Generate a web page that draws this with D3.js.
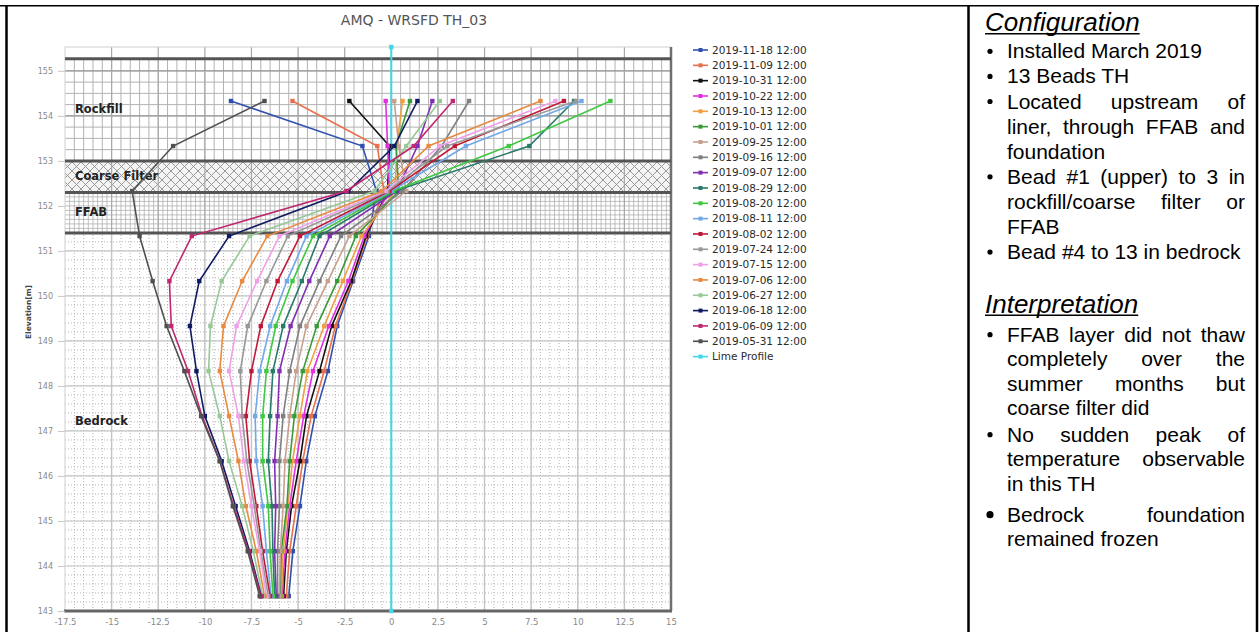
<!DOCTYPE html>
<html>
<head>
<meta charset="utf-8">
<script src="https://cdn.jsdelivr.net/npm/d3@7"></script>
<style>
  body { margin: 0; background: #fff; }
  svg { display: block; }
</style>
</head>
<body>
<svg id="chart" width="1259" height="632"></svg>
<script>
// ---- Thermistor bead elevations (m) ----
const elevations = [154.33, 153.33, 152.33, 151.33, 150.33, 149.33, 148.33, 147.33, 146.33, 145.33, 144.33, 143.33];

// ---- Temperature profiles (°C), one per reading date ----
const t1118 = [-8.6, -1.55, -0.8, -1.2, -2.05, -2.9, -3.4, -4.1, -4.56, -4.9, -5.28, -5.5];
const t1109 = [-5.3, -0.75, -0.4, -1.3, -2.1, -3.0, -3.6, -4.3, -4.75, -5.1, -5.45, -5.63];
const t1031 = [-2.25, -0.1, -0.2, -1.35, -2.15, -3.2, -3.85, -4.55, -4.9, -5.35, -5.63, -5.78];
const t1022 = [-0.3, -0.2, -0.1, -1.45, -2.3, -3.35, -4.2, -4.7, -5.1, -5.45, -5.7, -5.85];
const t1013 = [0.6, 0.3, 0.2, -1.6, -2.6, -3.6, -4.5, -4.9, -5.3, -5.55, -5.8, -5.9];
const t1001 = [1.0, 0.25, 0.4, -1.9, -2.9, -4.0, -4.75, -5.2, -5.45, -5.6, -5.9, -5.96];
const t0925 = [0.16, 0.4, 0.8, -2.25, -3.4, -4.55, -5.1, -5.45, -5.7, -5.8, -5.95, -6.0];
const t0916 = [4.17, 2.7, 0.6, -2.7, -3.85, -4.9, -5.45, -5.8, -6.0, -6.0, -6.1, -6.1];
const t0907 = [2.2, 1.4, 0.3, -3.3, -4.4, -5.4, -6.0, -6.1, -6.26, -6.2, -6.26, -6.17];
const t0829 = [9.8, 7.4, 0.2, -3.85, -4.8, -5.8, -6.35, -6.5, -6.6, -6.4, -6.35, -6.26];
const t0820 = [11.75, 6.3, 0.1, -4.2, -5.3, -6.2, -6.7, -6.9, -6.9, -6.6, -6.5, -6.35];
const t0811 = [10.2, 4.0, 0.0, -4.55, -5.6, -6.5, -7.06, -7.3, -7.24, -6.9, -6.7, -6.45];
const t0802 = [9.26, 3.4, -0.1, -4.9, -6.1, -7.0, -7.5, -7.8, -7.6, -7.24, -6.9, -6.5];
const t0724 = [9.9, 3.0, -0.2, -5.55, -6.7, -7.7, -8.1, -8.0, -7.75, -7.35, -7.0, -6.6];
const t0715 = [8.8, 2.6, -0.3, -6.0, -7.2, -8.3, -8.7, -8.2, -7.9, -7.5, -7.06, -6.7];
const t0706 = [8.0, 2.0, -0.5, -6.65, -8.0, -9.0, -9.2, -8.7, -8.2, -7.8, -7.24, -6.8];
const t0627 = [2.6, 0.8, -0.9, -7.6, -9.1, -9.7, -9.8, -9.2, -8.7, -8.0, -7.4, -6.9];
const t0618 = [1.4, 0.16, -2.3, -8.7, -10.3, -10.8, -10.45, -10.0, -9.1, -8.35, -7.6, -6.97];
const t0609 = [3.3, 1.2, -2.4, -10.7, -11.9, -11.8, -10.9, -10.15, -9.2, -8.45, -7.65, -7.0];
const t0531 = [-6.8, -11.7, -13.9, -13.5, -12.8, -12.05, -11.1, -10.2, -9.2, -8.5, -7.7, -7.06];

const seriesNames = [
  "2019-11-18 12:00", "2019-11-09 12:00", "2019-10-31 12:00", "2019-10-22 12:00",
  "2019-10-13 12:00", "2019-10-01 12:00", "2019-09-25 12:00", "2019-09-16 12:00",
  "2019-09-07 12:00", "2019-08-29 12:00", "2019-08-20 12:00", "2019-08-11 12:00",
  "2019-08-02 12:00", "2019-07-24 12:00", "2019-07-15 12:00", "2019-07-06 12:00",
  "2019-06-27 12:00", "2019-06-18 12:00", "2019-06-09 12:00", "2019-05-31 12:00"
];
const seriesValues = [t1118, t1109, t1031, t1022, t1013, t1001, t0925, t0916, t0907, t0829,
                      t0820, t0811, t0802, t0724, t0715, t0706, t0627, t0618, t0609, t0531];
const seriesColors = [
  "#3050b0", "#e8704a", "#111111", "#e030e0", "#f0a040", "#3a9a3a", "#c8a090", "#808080",
  "#8030b0", "#2a7a6a", "#40c840", "#70a8e8", "#c01838", "#989898", "#f0a0e8", "#e88a40",
  "#98c898", "#101a60", "#c02870", "#505050"
];

// Reference (0 °C) line
const limeName = "Lime Profile";
const limeTemps = [0, 0];
const limeElev = [143, 155.53];
const limeColor = "#40d8e8";

// ---- Material layers ----
const layerNames = ["Rockfill", "Coarse Filter", "FFAB", "Bedrock"];
const layerTops = [155.27, 153.0, 152.3, 151.4];
const layerBottoms = [153.0, 152.3, 151.4, 143.0];

// ---- Axis ticks ----
const xTicks = [-17.5, -15, -12.5, -10, -7.5, -5, -2.5, 0, 2.5, 5, 7.5, 10, 12.5, 15];
const yTicks = [143, 144, 145, 146, 147, 148, 149, 150, 151, 152, 153, 154, 155];

// ---- Side panel text ----
const configTitle = "Configuration";
const configItems = [
  ["Installed March 2019"],
  ["13 Beads TH"],
  ["Located upstream of", "liner, through FFAB and", "foundation"],
  ["Bead #1 (upper) to 3 in", "rockfill/coarse filter or", "FFAB"],
  ["Bead #4 to 13 in bedrock"]
];
const interpTitle = "Interpretation";
const interpItems = [
  ["FFAB layer did not thaw", "completely over the", "summer months but", "coarse filter did"],
  ["No sudden peak of", "temperature observable", "in this TH"],
  ["Bedrock foundation", "remained frozen"]
];

const svg = d3.select("#chart");
svg.append("rect").attr("width", 1259).attr("height", 632).attr("fill", "#fff");

const x = d3.scaleLinear().domain([-17.5, 15]).range([65, 671]);
const y = d3.scaleLinear().domain([143, 155.53]).range([611, 47]);
const [xL, xR] = x.range();
const [yB, yT] = y.range();

// patterns
const defs = svg.append("defs");
const hatch = defs.append("pattern").attr("id", "hatch").attr("patternUnits", "userSpaceOnUse")
  .attr("width", 9).attr("height", 9);
hatch.append("rect").attr("width", 9).attr("height", 9).attr("fill", "#f4f4f4");
hatch.append("path").attr("d", "M0,0L9,9M9,0L0,9M-1,8L1,10M8,-1L10,1")
  .attr("stroke", "#8f8f8f").attr("stroke-width", 0.9);
defs.append("clipPath").attr("id", "plotclip").append("rect")
  .attr("x", xL).attr("y", yT).attr("width", xR - xL).attr("height", yB - yT);

const grid = svg.append("g");
function hline(v, x0, x1, color, w, dash) {
  grid.append("line").attr("x1", x0).attr("x2", x1).attr("y1", y(v)).attr("y2", y(v))
    .attr("stroke", color).attr("stroke-width", w).attr("stroke-dasharray", dash || null);
}
function vline(v, y0, y1, color, w, dash) {
  grid.append("line").attr("x1", x(v)).attr("x2", x(v)).attr("y1", y(y0)).attr("y2", y(y1))
    .attr("stroke", color).attr("stroke-width", w).attr("stroke-dasharray", dash || null);
}

// Bedrock: dotted minor grid with light solid major lines
d3.range(-17, 15, 0.5).forEach(v => vline(v, 143, 151.4, "#b4b4b4", 1, "1,2"));
d3.range(143.2, 151.4, 0.2).forEach(v => hline(v, xL, xR, "#b4b4b4", 1, "1,2"));
d3.range(144, 151.4, 1).forEach(v => hline(v, xL, xR, "#c6c6c6", 1.2));
xTicks.slice(1, -1).forEach(v => vline(v, 143, 151.4, "#c4c4c4", 1.4));

// FFAB: dense solid grid
d3.range(-17.25, 15, 0.25).forEach(v => vline(v, 151.4, 152.3, "#b0b0b0", 0.8));
d3.range(151.5, 152.3, 0.1).forEach(v => hline(v, xL, xR, "#b0b0b0", 0.8));

// Coarse filter: cross hatch
grid.append("rect").attr("x", xL).attr("width", xR - xL)
  .attr("y", y(153.0)).attr("height", y(152.3) - y(153.0)).attr("fill", "url(#hatch)");

// Rockfill: solid grid
d3.range(-17, 15, 0.5).forEach(v => vline(v, 153.0, 155.27, "#b2b2b2", 1));
d3.range(153.25, 155.27, 0.25).forEach(v => hline(v, xL, xR, "#b2b2b2", 1));
[154, 155].forEach(v => hline(v, xL, xR, "#9a9a9a", 1.2));

// Major verticals through the upper layers
xTicks.slice(1, -1).forEach(v => vline(v, 151.4, 155.53, "#a8a8a8", 1.2));

// Plot frame
hline(155.53, xL, xR, "#cfcfcf", 1);
vline(-17.5, 143, 155.53, "#cfcfcf", 1);
vline(15, 143, 155.53, "#707070", 2.5);

// Layer boundaries
layerTops.forEach(v => hline(v, xL, xR, "#555", 3));
hline(143, xL - 1, xR + 1, "#666", 3);

// Layer labels
svg.append("g").selectAll("text").data(layerNames).join("text")
  .attr("x", 75)
  .attr("y", (d, i) => y((layerTops[i] + layerBottoms[i]) / 2))
  .attr("dominant-baseline", "middle")
  .attr("font-family", "DejaVu Sans, Verdana, sans-serif")
  .attr("font-weight", "bold").attr("font-size", 11.5).attr("fill", "#222")
  .text(d => d);

// Axes
const xAxis = svg.append("g").attr("transform", `translate(0,${yB + 6})`)
  .call(d3.axisBottom(x).tickValues(xTicks).tickFormat(d => String(d)).tickSize(0).tickPadding(2));
xAxis.select(".domain").remove();
xAxis.selectAll("text").attr("font-family", "DejaVu Sans, sans-serif").attr("font-size", 8.5).attr("fill", "#8a8a8a");

const yAxis = svg.append("g").attr("transform", `translate(${xL},0)`)
  .call(d3.axisLeft(y).tickValues(yTicks).tickFormat(d => String(d)).tickSize(7).tickPadding(5));
yAxis.select(".domain").remove();
yAxis.selectAll("line").attr("stroke", "#c8c8c8");
yAxis.selectAll("text").attr("font-family", "DejaVu Sans, sans-serif").attr("font-size", 8).attr("fill", "#8a8a8a");

svg.append("text").attr("transform", "translate(31,312) rotate(-90)")
  .attr("text-anchor", "middle").attr("font-family", "DejaVu Sans, sans-serif")
  .attr("font-size", 7.5).attr("font-weight", "bold").attr("fill", "#444").text("Elevation[m]");

// Title
svg.append("text").attr("x", 414).attr("y", 25).attr("text-anchor", "middle")
  .attr("font-family", "DejaVu Sans, Verdana, sans-serif").attr("font-size", 14)
  .attr("fill", "#555").text("AMQ - WRSFD TH_03");

// Profiles
const plot = svg.append("g").attr("clip-path", "url(#plotclip)");
const line = d3.line().x(d => x(d[0])).y(d => y(d[1]));

plot.append("path").datum(limeTemps.map((t, i) => [t, limeElev[i]]))
  .attr("d", line).attr("fill", "none").attr("stroke", limeColor).attr("stroke-width", 2);

seriesValues.forEach((vals, s) => {
  const pts = vals.map((t, i) => [t, elevations[i]]);
  const g = plot.append("g");
  g.append("path").datum(pts).attr("d", line).attr("fill", "none")
    .attr("stroke", seriesColors[s]).attr("stroke-width", 1.6);
  g.selectAll("rect").data(pts).join("rect")
    .attr("x", d => x(d[0]) - 2.2).attr("y", d => y(d[1]) - 2.2)
    .attr("width", 4.4).attr("height", 4.4).attr("fill", seriesColors[s]);
});
svg.append("g").selectAll("rect").data(limeTemps.map((t, i) => [t, limeElev[i]])).join("rect")
  .attr("x", d => x(d[0]) - 2.2).attr("y", d => y(d[1]) - 2.2)
  .attr("width", 4.4).attr("height", 4.4).attr("fill", limeColor);

// Legend
const legNames = seriesNames.concat([limeName]);
const legColors = seriesColors.concat([limeColor]);
const leg = svg.append("g").selectAll("g").data(legNames).join("g")
  .attr("transform", (d, i) => `translate(693,${50 + i * 15.33})`);
leg.append("line").attr("x1", 0).attr("x2", 15).attr("stroke", (d, i) => legColors[i]).attr("stroke-width", 1.6);
leg.append("rect").attr("x", 5.5).attr("y", -2).attr("width", 4).attr("height", 4).attr("fill", (d, i) => legColors[i]);
leg.append("text").attr("x", 19).attr("dy", "0.35em")
  .attr("font-family", "DejaVu Sans, Verdana, sans-serif").attr("font-size", 10.5)
  .attr("fill", "#2a2a2a").text(d => d);

// Table borders
const border = svg.append("g").attr("stroke", "#000");
border.append("line").attr("x1", 0).attr("x2", 1259).attr("y1", 5.8).attr("y2", 5.8).attr("stroke-width", 1.6);
border.append("line").attr("x1", 6.5).attr("x2", 6.5).attr("y1", 5).attr("y2", 632).attr("stroke-width", 2.5);
border.append("line").attr("x1", 968.5).attr("x2", 968.5).attr("y1", 5).attr("y2", 632).attr("stroke-width", 2.5);
border.append("line").attr("x1", 1257).attr("x2", 1257).attr("y1", 5).attr("y2", 632).attr("stroke-width", 2.5);

// Side panel
const panel = svg.append("g").attr("font-family", "Liberation Sans, Arial, sans-serif").attr("fill", "#000");
const textX0 = 1007, textX1 = 1245, bulletX = 990;

function heading(txt, baseline) {
  const t = panel.append("text").attr("x", 985).attr("y", baseline)
    .attr("font-size", 26).attr("font-style", "italic").text(txt);
  const w = t.node().getComputedTextLength();
  panel.append("line").attr("x1", 985).attr("x2", 985 + w)
    .attr("y1", baseline + 2.8).attr("y2", baseline + 2.8).attr("stroke", "#000").attr("stroke-width", 1.6);
}

function paragraph(lines, baseline0, lh, bulletR) {
  panel.append("circle").attr("cx", bulletX).attr("cy", baseline0 - 7).attr("r", bulletR);
  lines.forEach((ln, i) => {
    const yy = baseline0 + i * lh;
    if (i === lines.length - 1) {
      panel.append("text").attr("x", textX0).attr("y", yy).attr("font-size", 21).text(ln);
    } else {
      const words = ln.split(" ");
      const nodes = words.map(w => panel.append("text").attr("y", yy).attr("font-size", 21).text(w));
      const widths = nodes.map(n => n.node().getComputedTextLength());
      const gap = (textX1 - textX0 - d3.sum(widths)) / (words.length - 1);
      let cx = textX0;
      nodes.forEach((n, k) => { n.attr("x", cx); cx += widths[k] + gap; });
    }
  });
}

heading(configTitle, 31);
let base = 58.3;
configItems.forEach(item => { paragraph(item, base, 25.1, 2.6); base += item.length * 25.1; });

heading(interpTitle, 312.5);
const interpStarts = [341.7, 441.7, 521.7];
interpItems.forEach((item, k) => paragraph(item, interpStarts[k], 24.5, k === 2 ? 3.6 : 2.6));
</script>
</body>
</html>
